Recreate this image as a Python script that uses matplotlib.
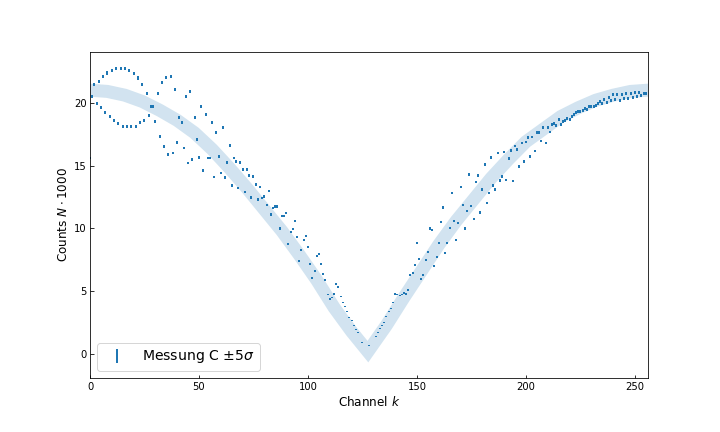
import numpy as np
import matplotlib
matplotlib.use('Agg')
import matplotlib.pyplot as plt

counts = [
    15.6, 20.5, 21.46, 19.97, 21.7, 19.65, 22.1, 19.25, 22.36, 18.88,
    22.57, 18.6, 22.7, 18.33, 22.7, 18.14, 22.7, 18.1, 22.57, 18.1,
    22.33, 18.1, 21.97, 18.4, 21.46, 18.57, 20.7, 19.0, 19.7, 19.7,
    18.5, 20.7, 17.3, 21.6, 16.5, 22.0, 15.9, 22.07, 16.0, 21.06,
    16.85, 18.85, 18.45, 16.4, 20.5, 15.2, 20.9, 15.5, 18.8, 17.1,
    15.67, 19.7, 14.6, 19.1, 15.6, 15.6, 18.45, 14.1, 17.6, 15.75,
    14.4, 18.0, 14.07, 15.27, 16.6, 13.4, 15.6, 15.35, 13.2, 15.27,
    14.7, 12.9, 14.7, 14.2, 12.45, 14.15, 13.5, 12.3, 13.3, 12.4,
    12.55, 11.85, 12.96, 11.1, 11.6, 11.75, 11.75, 10.0, 10.97, 10.97,
    11.2, 8.8, 9.75, 9.93, 10.6, 9.35, 7.4, 8.3, 9.1, 9.43,
    8.55, 7.2, 6.08, 6.64, 7.83, 8.0, 7.2, 6.4, 5.92, 4.73,
    4.38, 4.5, 4.8, 5.6, 5.36, 4.57, 4.09, 3.77, 3.37, 2.92,
    2.65, 2.28, 1.97, 1.75, -0.2, 0.93, 0.8, -0.2, 0.69, -0.2,
    -0.2, 1.43, 1.7, 2.05, 2.3, 2.55, 3.0, 3.37, 3.64, 4.09,
    4.8, 4.73, 4.67, 4.73, 4.86, 4.78, 5.12, 6.3, 6.45, 7.1,
    8.82, 7.6, 6.0, 6.3, 7.5, 8.13, 10.0, 9.85, 7.04, 7.75,
    8.87, 10.5, 11.66, 8.07, 8.87, 10.06, 12.8, 10.6, 9.1, 10.4,
    13.3, 11.85, 10.0, 11.4, 14.3, 11.77, 10.76, 13.7, 14.2, 11.26,
    13.1, 15.1, 12.0, 12.8, 15.67, 13.4, 13.1, 16.0, 13.8, 14.15,
    16.07, 13.84, 15.54, 16.2, 13.76, 16.55, 16.3, 14.95, 16.8, 15.35,
    16.87, 17.24, 15.75, 17.27, 16.15, 17.6, 17.6, 16.95, 18.0, 16.8,
    18.0, 17.67, 18.27, 18.33, 18.2, 18.65, 18.25, 18.54, 18.6, 18.75,
    18.65, 18.94, 19.07, 19.23, 19.3, 19.33, 19.36, 19.52, 19.44, 19.68,
    19.7, 19.7, 19.79, 19.92, 20.08, 19.92, 20.24, 20.03, 20.43, 20.16,
    20.64, 20.27, 20.69, 20.2, 20.69, 20.32, 20.77, 20.35, 20.77, 20.45,
    20.82, 20.5, 20.85, 20.6, 20.77, 20.72,
]
channel = np.arange(len(counts))

# expected curve (the wide pale band), read every 8 channels
model_k = [0, 8, 16, 24, 32, 40, 48, 56, 64, 72, 80, 88, 96, 104, 112, 120, 127.5,
           136, 144, 152, 160, 168, 176, 184, 192, 200, 208, 216, 224, 232, 240, 248, 256]
model_n = [21.0, 20.9, 20.6, 20.1, 19.4, 18.6, 17.6, 16.3, 14.8, 13.2, 11.5, 9.8, 7.9,
           5.9, 3.7, 1.8, 0.2, 2.3, 4.5, 6.6, 8.7, 10.6, 12.3, 14.0, 15.5, 16.9, 17.9,
           18.9, 19.6, 20.2, 20.6, 20.9, 21.0]

counts = np.array(counts)
err = 5 * 0.0054 * np.sqrt(np.clip(counts, 0, None))   # 5 sigma

fig = plt.figure(figsize=(10, 6), dpi=72)
fig.subplots_adjust(left=0.125, right=0.9, top=0.88, bottom=0.125)
ax = fig.add_subplot(111)

ax.plot(model_k, model_n, color='C0', alpha=0.2, linewidth=13, solid_joinstyle='miter')
ax.errorbar(channel, counts, yerr=err, fmt='none', ecolor='C0', elinewidth=2,
            label=r'Messung C $\pm5\sigma$')

ax.set_xlim(0, 256)
ax.set_ylim(-1.9, 24.05)
ax.set_xticks([0, 50, 100, 150, 200, 250])
ax.set_yticks([0, 5, 10, 15, 20])
ax.tick_params(direction='in')
ax.set_xlabel(r'Channel $k$', fontsize=12)
ax.set_ylabel(r'Counts $N \cdot 1000$', fontsize=12)
ax.legend(loc='lower left', fontsize=14)

fig.savefig('out.png', dpi=72)
